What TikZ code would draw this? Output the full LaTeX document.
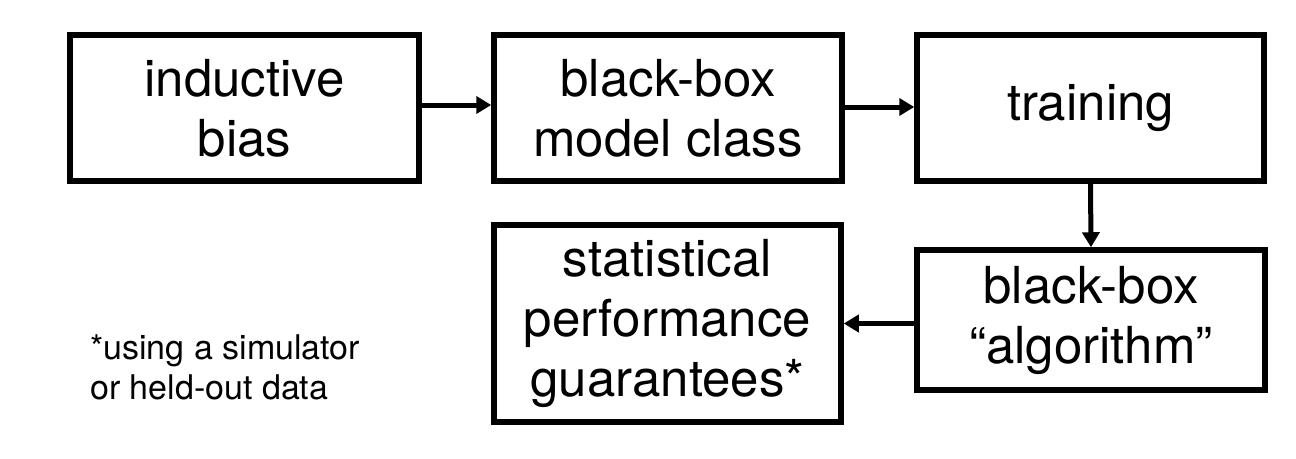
\documentclass[tikz,border=0pt]{standalone}
\usepackage{fontspec}
\setmainfont{TeX Gyre Heros}
\usetikzlibrary{arrows.meta}
\tikzset{
  blk/.style={draw=black, line width=5.5pt, align=center, inner sep=0pt,
    font=\fontsize{51}{60}\selectfont},
  conn/.style={line width=5pt, -{Triangle[length=15pt,width=17pt]}},
  note/.style={align=left, inner sep=0pt, font=\fontsize{34}{40}\selectfont}
}
\begin{document}
\begin{tikzpicture}[x=1pt,y=-1pt]
\useasboundingbox (0,0) rectangle (1296,458);
\node[blk, minimum width=349pt, minimum height=146pt] (b1) at (244.5,108) {inductive\\bias};
\node[blk, minimum width=348pt, minimum height=146pt] (b2) at (668,108) {black-box\\model class};
\node[blk, minimum width=347pt, minimum height=146pt] (b3) at (1090.5,108) {training};
\node[blk, minimum width=348pt, minimum height=140pt] (b4) at (1091,320) {black-box\\“algorithm”};
\node[blk, minimum width=347pt, minimum height=197pt] (b5) at (667.5,323.5) {statistical\\performance\\guarantees*};
\node[note, anchor=west] (n) at (90,367) {*using a simulator\\or held-out data};
\draw[conn] ([yshift=3pt]b1.east) -- ([yshift=3pt]b2.west);
\draw[conn] ([yshift=1pt]b2.east) -- ([yshift=1pt]b3.west);
\draw[conn] (b3.south) -- (b4.north);
\draw[conn] (b4.west |- b5.east) -- (b5.east);
\end{tikzpicture}
\end{document}
